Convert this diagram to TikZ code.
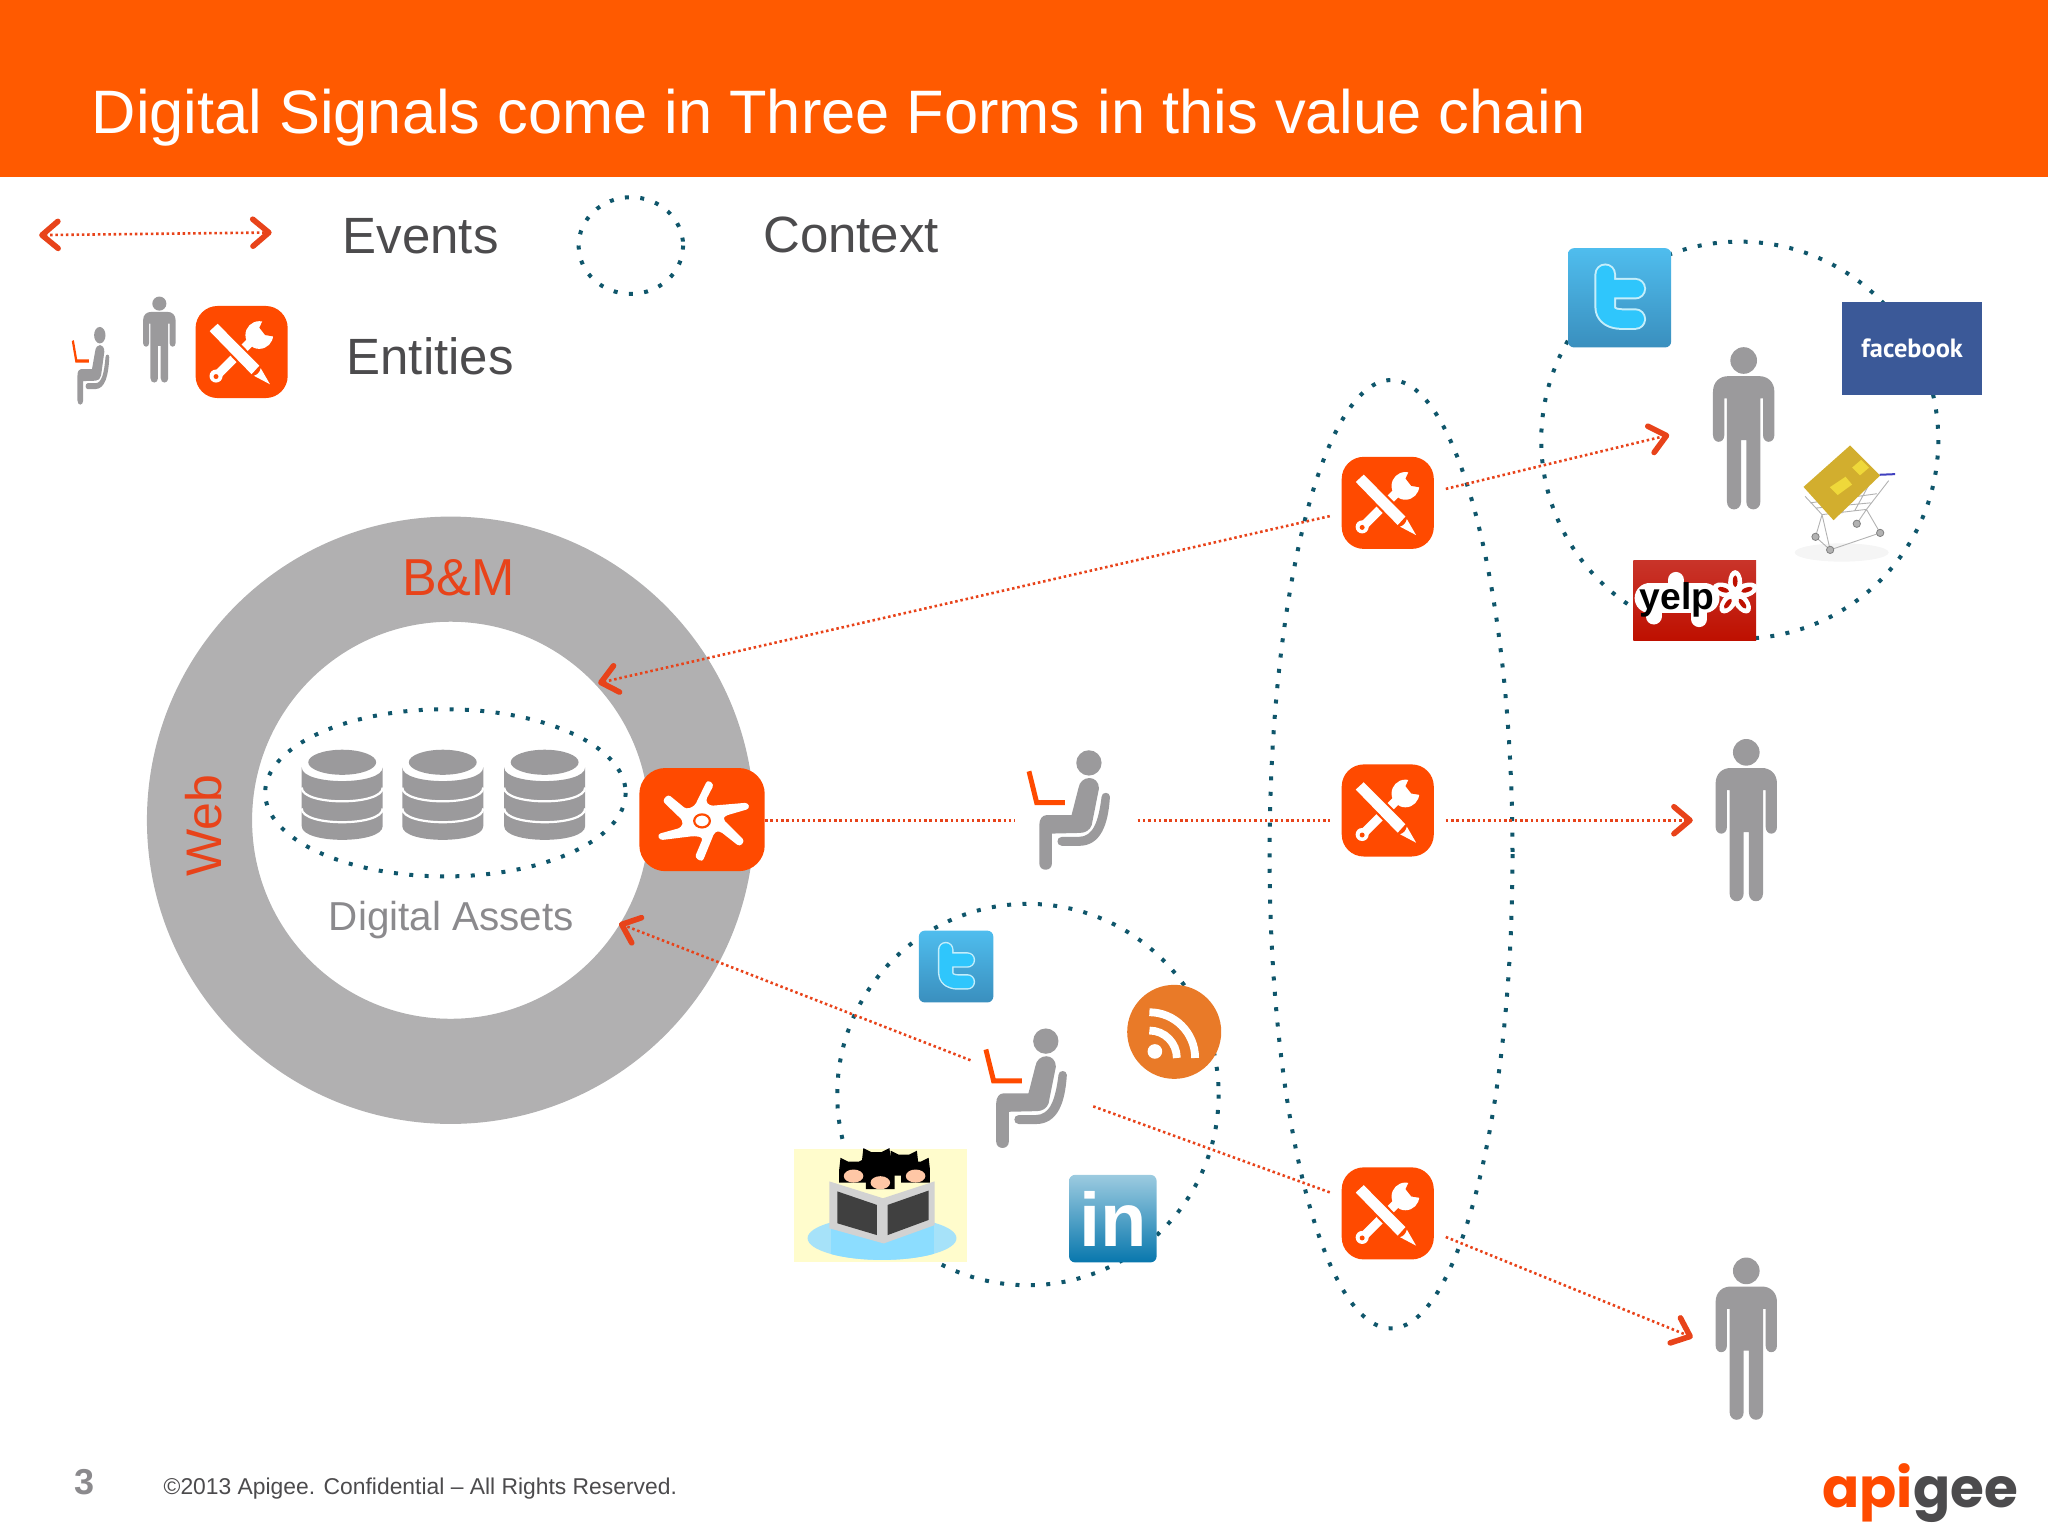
\documentclass[tikz,border=0pt]{standalone}
\usepackage{fontspec}
\setmainfont{Liberation Sans}
\newfontfamily\logofont{Poppins}
\newfontfamily\fbfont{PT Sans}
\usetikzlibrary{arrows.meta}
\newcommand{\ux}{0.653pt}
\definecolor{bandorange}{HTML}{FF5A00}
\definecolor{iconorange}{HTML}{FF4A00}
\definecolor{eventred}{HTML}{E8431A}
\definecolor{inkgrey}{HTML}{4C4B4D}
\definecolor{ringgrey}{HTML}{B1B0B1}
\definecolor{shapegrey}{HTML}{9B9A9C}
\definecolor{labelgrey}{HTML}{8B8A8D}
\definecolor{ctxteal}{HTML}{0F566B}
\definecolor{birdtop}{HTML}{4FBDEE}
\definecolor{birdlow}{HTML}{3A8FBE}
\definecolor{birdink}{HTML}{2FC6FC}
\definecolor{birdrim}{HTML}{C4EEFB}
\definecolor{fbblue}{HTML}{3B5998}
\definecolor{yelptop}{HTML}{C9342A}
\definecolor{yelplow}{HTML}{BE1000}
\definecolor{lktop}{HTML}{9CCBE0}
\definecolor{lklow}{HTML}{0877AD}
\definecolor{rssorange}{HTML}{E97A28}
\definecolor{cardgold}{HTML}{D2AE2E}
\definecolor{cardlight}{HTML}{EFD83A}
\tikzset{
  barb/.tip={Straight Barb[length=8pt,width=13.5pt,line width=2.8pt,round]},
  eventplain/.style={eventred,line width=1.3pt,dash pattern=on 1.25pt off 1.4pt},
  event/.style={eventplain,-barb},
  ctxdots/.style={ctxteal,line width=2pt,dash pattern=on 2pt off 5.7pt},
  toolbox/.style={fill=iconorange,rounded corners=11pt,minimum size=70.5*\ux,inner sep=0pt,outer sep=6pt},
  standing/.style={minimum width=82*\ux,minimum height=124*\ux,inner sep=0pt,outer sep=0pt},
  seated/.style={minimum width=94*\ux,minimum height=110*\ux,inner sep=0pt,outer sep=0pt},
  birdbox/.style={rounded corners=3pt,top color=birdtop,bottom color=birdlow,inner sep=0pt},
  bigtext/.style={inkgrey,inner sep=0pt,anchor=west,font=\fontsize{25.5}{28}\selectfont},
  person/.pic={
    \fill[shapegrey] (0,-52) circle [radius=10.2];
    \fill[shapegrey] (-23.5,5) -- (-23.5,-28) .. controls (-23.5,-36) and (-18,-40) .. (-12,-40)
      -- (12,-40) .. controls (18,-40) and (23.5,-36) .. (23.5,-28) -- (23.5,5)
      .. controls (23.5,12) and (14.8,12) .. (14.8,5) -- (14.8,-23) -- (12.8,-23) -- (12.8,56)
      .. controls (12.8,64) and (2,64) .. (2,56) -- (2,9) -- (-2,9) -- (-2,56)
      .. controls (-2,64) and (-12.8,64) .. (-12.8,56) -- (-12.8,-23) -- (-14.8,-23) -- (-14.8,5)
      .. controls (-14.8,12) and (-23.5,12) .. (-23.5,5) -- cycle;
  },
  sitter/.pic={
    \fill[shapegrey] (10.7,-32.9) circle [radius=9.7];
    \fill[iconorange] (-37,-26) -- (-33.4,-27) -- (-27.8,-4.4) -- (-7.7,-4.4) -- (-7.7,-0.6) -- (-30.8,-0.6) -- cycle;
    \fill[shapegrey] (2.6,-13.3) .. controls (4,-24) and (18.4,-24) .. (18.4,-13.3)
      -- (12.8,14.8) .. controls (11.5,18.5) and (8,20.7) .. (3.8,20.7) -- (-17.6,21.2) -- (-17.6,44)
      .. controls (-17.6,50.5) and (-27.3,50.5) .. (-27.3,44) -- (-27.3,14.8)
      .. controls (-27.3,10) and (-25,7.1) .. (-21.7,7.1) -- (-2.6,7.1) -- cycle;
    \fill[shapegrey] (20.4,-7) .. controls (20.4,-11) and (26.8,-11) .. (26.8,-7)
      .. controls (25.5,14) and (20,30.6) .. (3,30.6) -- (-10,30.6)
      .. controls (-14.5,30.6) and (-14.5,23.7) .. (-10,23.7) -- (3,23.7)
      .. controls (14,23.7) and (18,12) .. (20.4,-7) -- cycle;
  },
  toolmark/.pic={
    \draw[white,line width=4.4pt] (-19.5,18.5) -- (9,-10);
    \fill[white] (-19.6,18.4) circle [radius=5];
    \fill[iconorange] (-19.6,18.8) circle [radius=1.9];
    \fill[white] (13.5,-13) circle [radius=10.6];
    \fill[iconorange] (17.5,-27) -- (13.6,-18.6) -- (18,-13) -- (27,-11.5) -- (28,-26) -- cycle;
    \draw[iconorange,line width=2.2pt,line join=round] (-24.5,-16) -- (-18.4,-21.6) -- (13.5,10.5) -- (7.6,17) -- cycle;
    \fill[white] (-24.5,-16) -- (-18.4,-21.6) -- (13.5,10.5) -- (7.6,17) -- cycle;
    \fill[white] (14.6,12.4) -- (21.7,24.7) -- (9.4,18.2) .. controls (12,17.5) and (14,15.5) .. (14.6,12.4) -- cycle;
  },
  cylinder/.pic={
    \fill[shapegrey] (-31,-21) .. controls (-31,-7) and (31,-7) .. (31,-21) -- (31,24)
      .. controls (31,38) and (-31,38) .. (-31,24) -- cycle;
    \fill[shapegrey] (0,-24.9) ellipse [x radius=26,y radius=9.6];
    \foreach \dy in {15.5,31.5}
      \draw[white,line width=1.1pt] (-31,-21+\dy) .. controls (-31,-7+\dy) and (31,-7+\dy) .. (31,-21+\dy);
  },
  pics/tbird/.style={code={
    \begin{scope}[scale=#1,line cap=round,line join=round]
      \draw[birdrim,line width=#1*10.8pt] (-11,-18) -- (-11,7) .. controls (-11,13) and (-6,16.3) .. (2,16.3) -- (12,16.3) (-11,-7) -- (12,-7);
      \draw[birdink,line width=#1*8.8pt] (-11,-18) -- (-11,7) .. controls (-11,13) and (-6,16.3) .. (2,16.3) -- (12,16.3) (-11,-7) -- (12,-7);
    \end{scope}
  }},
}
\begin{document}
\begin{tikzpicture}[x=0.653pt,y=-0.653pt]
\useasboundingbox (0,0) rectangle (1568,1175.2);

\fill[bandorange] (0,0) rectangle (1568,135.5);
\node[white,inner sep=0pt,anchor=west,font=\fontsize{30.68}{34}\selectfont] (title) at (70,90) {Digital Signals come in Three Forms in this value chain};

\coordinate (legendL) at (30,180);
\coordinate (legendR) at (208,178);
\draw[eventplain,barb-barb] (legendL) -- (legendR);
\node[bigtext] (events) at (262,180.5) {Events};
\node[bigtext] (context) at (584,179.5) {Context};
\node[bigtext] (entities) at (265,273) {Entities};
\draw[ctxdots] (483,188) ellipse [x radius=40,y radius=37];
\pic[xscale=.45,yscale=.65] at (71.6,278) {sitter};
\pic[scale=.53] at (122,260) {person};

\fill[ringgrey,even odd rule] (345,628) circle [radius=232.5] (345,628) circle [radius=152];
\node[eventred,inner sep=0pt,font=\fontsize{26}{28}\selectfont] (bm) at (351,442) {B\&M};
\node[eventred,inner sep=0pt,rotate=90,font=\fontsize{25}{28}\selectfont] (web) at (156,632) {Web};
\node[labelgrey,inner sep=0pt,font=\fontsize{20.2}{24}\selectfont] (assets) at (345.5,704.5) {Digital Assets};
\draw[ctxdots] (341,607) ellipse [x radius=138,y radius=64];
\foreach \x in {262,339,417}
  \pic at (\x,608.5) {cylinder};

\draw[ctxdots] (1065,654) ellipse [x radius=93,y radius=363];
\draw[ctxdots] (1332,337) circle [radius=152];
\draw[ctxdots] (787,838) circle [radius=146];

\foreach \tname/\tx/\ty in {toolLegend/185/269.5,toolA/1062.5/385,toolB/1062.5/620.5,toolC/1062.5/929} {
  \node[toolbox] (\tname) at (\tx,\ty) {};
  \pic at (\tname) {toolmark};
}

\node[fill=iconorange,rounded corners=13pt,minimum width=96*\ux,minimum height=79*\ux,inner sep=0pt] (hub) at (537.5,627.5) {};
\begin{scope}[shift={(hub)}]
  \fill[white,rounded corners=1.6pt] (4.1,-30.4) -- (9.2,-27) -- (2.6,-14.3) -- (5.9,-10.5) -- (35.2,-13) -- (36.5,-8.4) -- (17.3,-2.8) -- (16,-.3) -- (32.7,16.3) -- (28.8,20.7) -- (13.5,8.7) -- (9.7,9.4) -- (.3,32.4) -- (-5.6,29) -- (.8,13.8) -- (-5.6,12.5) -- (-32.4,15.8) -- (-34.2,11.2) -- (-15.8,6.1) -- (-14.5,1) -- (-30.4,-14.3) -- (-26,-19.4) -- (-12,-7.9) -- (-5.6,-10.5) -- cycle;
  \draw[iconorange,line width=1.1pt] (0,1) ellipse [x radius=6,y radius=5];
\end{scope}

\node[standing] (userA) at (1335,328) {};
\node[standing] (userB) at (1337,628) {};
\node[standing] (userC) at (1337,1025) {};
\foreach \uname in {userA,userB,userC}
  \pic at (\uname) {person};
\node[seated] (seatB) at (824,628) {};
\node[seated] (seatC) at (790,830) {};
\pic at (823,617) {sitter};
\pic at (790,830) {sitter};

\node[birdbox,minimum width=79*\ux,minimum height=76*\ux] (twitA) at (1240,228) {};
\pic at (twitA) {tbird=1};
\node[birdbox,minimum width=57*\ux,minimum height=55*\ux] (twitB) at (732,740) {};
\pic at (twitB) {tbird=.72};

\node[fill=fbblue,text=white,inner sep=0pt,minimum width=107.5*\ux,minimum height=71.5*\ux,font=\fbfont\bfseries\fontsize{13.2}{14}\selectfont] (facebook) at (1464,267) {\raisebox{1pt}{facebook}};

\node[inner sep=0pt,minimum width=94*\ux,minimum height=61.5*\ux,top color=yelptop,bottom color=yelplow] (yelpbox) at (1297.5,459.5) {};
\draw[white,line width=15pt,line cap=round] (1263,458) -- (1305,458);
\draw[white,line width=8pt,line cap=round] (1266,472) -- (1266,466) (1283,444) -- (1283,455) (1301,474) -- (1301,460);
\node[inner sep=0pt,anchor=base,font=\bfseries\fontsize{18.6}{20}\selectfont] (yelptext) at (1284,467) {yelp};
\foreach \a in {90,18,162,234,306} {
  \fill[white,shift={(1328.5,454.5)},rotate=\a] (8.5,0) ellipse [x radius=9.5,y radius=5.4];
  \fill[yelplow,shift={(1328.5,454.5)},rotate=\a] (9.5,0) ellipse [x radius=4.5,y radius=1.8];
}

\begin{scope}[shift={(1415,385)}]
  \fill[gray!8] (-5,38) ellipse [x radius=36,y radius=7];
  \draw[gray!60,line width=.45pt] (-33,-5) -- (-20,9) -- (14,5) -- (31,-17) (-29,0) -- (22,-7) (-25,4) -- (17,0) (-14,9) -- (-5,-10) (-5,8) -- (6,-12) (5,6) -- (16,-14) (-20,9) -- (-25,26) (-20,9) -- (-13.8,36) (14,5) -- (24.5,23) (14,5) -- (6.6,16) (-25,26) -- (-13.8,36) -- (24.5,23);
  \foreach \wx/\wy in {-25/26,-13.8/36,6.6/16,24.5/23}
    \filldraw[fill=gray!60,draw=gray] (\wx,\wy) circle [radius=2.8];
  \draw[blue!50!gray,line width=1pt] (24,-21.5) -- (36,-22);
  \fill[cardgold] (-34.2,-12.2) -- (1.5,-44) -- (24.5,-21) -- (-11.2,13.3) -- cycle;
  \fill[cardlight] (3,-27) -- (10,-33) -- (16,-27) -- (9,-21) -- cycle (-14,-12) -- (-2,-20) -- (3,-14) -- (-8,-6) -- cycle;
\end{scope}

\node[circle,fill=rssorange,minimum size=72*\ux,inner sep=0pt] (rss) at (899,790) {};
\begin{scope}[shift={(rss)}]
  \fill[white] (-14.8,15) circle [radius=5.6];
  \draw[white,line width=3.9pt] (-19,-1) .. controls (-7.4,-1) and (2,8.4) .. (2,20);
  \draw[white,line width=3.9pt] (-19,-15) .. controls (0.3,-15) and (16,.7) .. (16,20);
\end{scope}

\node[rounded corners=3pt,top color=lktop,bottom color=lklow,text=white,inner sep=0pt,minimum width=67*\ux,minimum height=67*\ux,font=\bfseries\fontsize{38}{40}\selectfont] (linkedin) at (852,933) {\raisebox{-2pt}{in}};

\node[fill=yellow!20,inner sep=0pt,minimum width=132*\ux,minimum height=86*\ux] (crate) at (674,923) {};
\begin{scope}[shift={(crate)}]
  \fill[cyan!35!white] (1.3,25) ellipse [x radius=57,y radius=16.6];
  \begin{scope}
    \clip (1.3,25) ellipse [x radius=57,y radius=16.6];
    \fill[blue!30!cyan!45!white] (-38,15) rectangle (41,45);
  \end{scope}
  \foreach \cx/\cy in {-3/-31,18/-29,-20.5/-23.6,27/-23.6,0/-18.5} {
    \fill[black] (\cx-11,\cy-4) -- (\cx-10,\cy-13) -- (\cx-4,\cy-10) -- (\cx+4,\cy-10) -- (\cx+10,\cy-13) -- (\cx+11,\cy-4) -- (\cx+11,\cy+6) -- (\cx-11,\cy+6) -- cycle;
  }
  \foreach \cx/\cy in {-20.5/-23.6,27/-23.6,0/-18.5}
    \fill[red!25!orange!35!white] (\cx,\cy+1) ellipse [x radius=7.5,y radius=5];
  \fill[gray!35] (-39,-18.5) -- (2,-5.6) -- (41.5,-18.5) -- (41.5,15) -- (2.6,29) -- (-39,17.4) -- cycle;
  \fill[black!75] (-32.8,-10.8) -- (-2.6,-.5) -- (-2.6,22.6) -- (-32.8,13.6) -- cycle;
  \fill[black!75] (5.6,-.5) -- (37,-11.5) -- (37,11) -- (5.6,22.6) -- cycle;
\end{scope}

\coordinate (ringTipA) at (458,523);
\coordinate (ringTipB) at (474,707);
\coordinate (tipA) at (1278,333);
\coordinate (tipC) at (1296,1024);
\draw[event] (toolA) -- (ringTipA);
\draw[event] (toolA) -- (tipA);
\draw[eventplain] (hub.east |- seatB) -- (seatB.west);
\draw[eventplain] (seatB.east) -- (seatB.east -| toolB.west);
\draw[event] (toolB.east |- userB) -- (userB.west);
\draw[event] (seatC) -- (ringTipB);
\draw[eventplain] (seatC) -- (toolC);
\draw[event] (toolC) -- (tipC);

\node[labelgrey,inner sep=0pt,font=\bfseries\fontsize{18}{20}\selectfont] (pagenum) at (64.5,1135) {3};
\node[inkgrey,inner sep=0pt,anchor=west,font=\fontsize{11.43}{13}\selectfont] (notice) at (125,1139.5) {©2013 Apigee. Confidential – All Rights Reserved.};
\node[inner sep=0pt,anchor=base west,font=\logofont\bfseries\fontsize{27.4}{30}\selectfont] (logo) at (1395,1154) {\textcolor{iconorange}{api}\textcolor{inkgrey}{gee}};
\end{tikzpicture}
\end{document}
